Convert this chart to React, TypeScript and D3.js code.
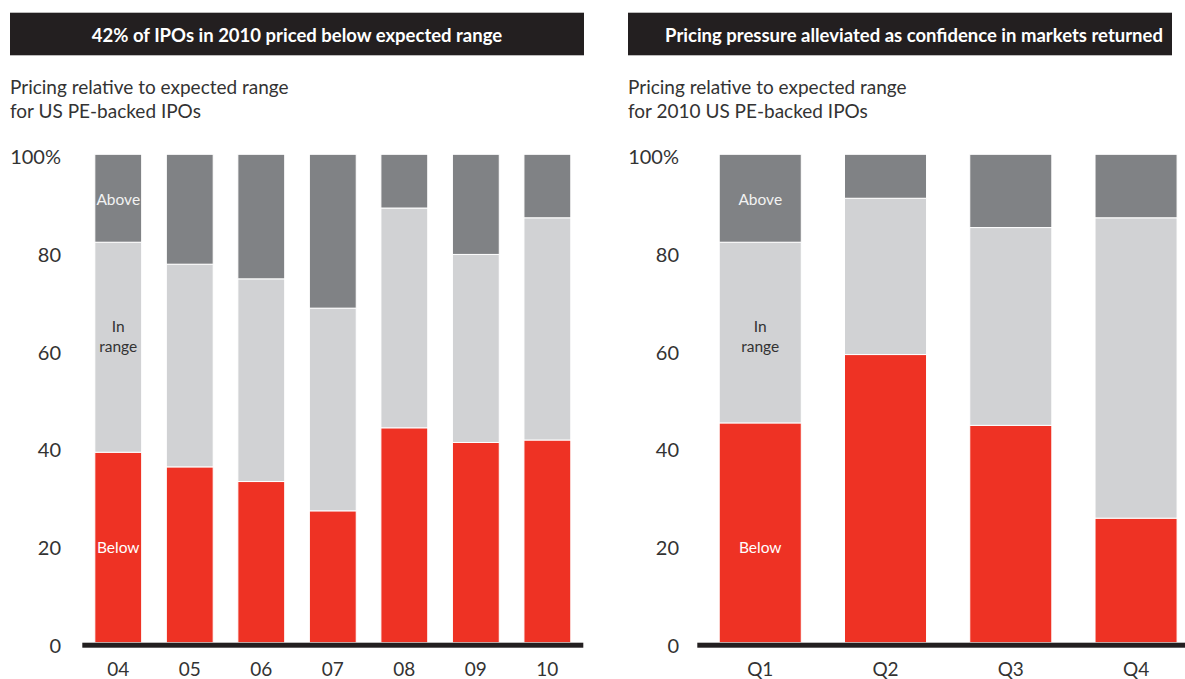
import React from 'react';
import * as d3 from 'd3';

// chart values
const yearCategories = ['04', '05', '06', '07', '08', '09', '10'];
const yearBelow = [39, 36, 33, 27, 44, 41, 41.5];
const yearInRange = [43, 41.5, 41.5, 41.5, 45, 38.5, 45.5];
const yearAbove = [18, 22.5, 25.5, 31.5, 11, 20.5, 13];

const quarterCategories = ['Q1', 'Q2', 'Q3', 'Q4'];
const quarterBelow = [45, 59, 44.5, 25.5];
const quarterInRange = [37, 32, 40.5, 61.5];
const quarterAbove = [18, 9, 15, 13];

const yTicks = [0, 20, 40, 60, 80, 100];
const segmentKeys = ['below', 'inRange', 'above'];

const RED = '#ee3224';
const LIGHT = '#d1d2d4';
const DARK = '#808285';
const INK = '#231f20';
const FONT = 'Lato, "Open Sans", sans-serif';

interface PanelProps {
  title: string;
  titleX: number;
  subtitle: string[];
  categories: string[];
  below: number[];
  inRange: number[];
  above: number[];
  barBox: [number, number];
  axisRange: [number, number];
  tickRight: number;
  labelled?: boolean;
}

const y = d3.scaleLinear().domain([0, 100]).range([642.7, 154.3]);

const Panel: React.FC<PanelProps> = ({
  title, titleX, subtitle, categories, below, inRange, above, barBox, axisRange, tickRight, labelled,
}) => {
  const x = d3.scaleBand<string>()
    .domain(categories)
    .range(axisRange)
    .paddingInner(0.345)
    .paddingOuter(0.175);

  const rows = categories.map((c, i) => ({ cat: c, below: below[i], inRange: inRange[i], above: above[i] }));
  const series = d3.stack<any>().keys(segmentKeys)(rows);
  const fills = [RED, LIGHT, DARK];

  const first = categories[0];
  const cx = x(first)! + x.bandwidth() / 2;

  return (
    <g>
      <rect x={barBox[0]} y={12.7} width={barBox[1] - barBox[0]} height={42.6} fill={INK} />
      <text
        x={titleX}
        y={41.5}
        textAnchor="middle"
        fill="#fff"
        fontFamily={FONT}
        fontWeight={700}
        fontSize={18.5}
      >
        {title}
      </text>
      {subtitle.map((s, i) => (
        <text key={i} x={barBox[0]} y={94.3 + i * 24} fill="#333" fontFamily={FONT} fontSize={19}>
          {s}
        </text>
      ))}

      {series.map((s, si) => (
        <g key={si} fill={fills[si]}>
          {s.map((d, i) => (
            <rect
              key={i}
              x={x(categories[i])}
              y={y(d[1])}
              width={x.bandwidth()}
              height={y(d[0]) - y(d[1])}
              stroke="#fff"
              strokeWidth={1}
            />
          ))}
        </g>
      ))}

      <rect x={axisRange[0]} y={642.7} width={axisRange[1] - axisRange[0]} height={5} fill={INK} />

      {yTicks.map(t => (
        <text
          key={t}
          x={tickRight}
          y={y(t) + 10}
          textAnchor="end"
          fill="#333"
          fontFamily={FONT}
          fontSize={20}
        >
          {t === 100 ? '100%' : t}
        </text>
      ))}

      {categories.map(c => (
        <text
          key={c}
          x={x(c)! + x.bandwidth() / 2}
          y={675.5}
          textAnchor="middle"
          fill="#333"
          fontFamily={FONT}
          fontSize={19}
        >
          {c}
        </text>
      ))}

      {labelled && (
        <g fontFamily={FONT} fontSize={15.5} textAnchor="middle">
          <text x={cx} y={y(90.6) + 5} fill="#f2f2f2">Above</text>
          <text x={cx} y={y(64.7) + 5} fill="#333">In</text>
          <text x={cx} y={y(60.5) + 5} fill="#333">range</text>
          <text x={cx} y={y(19.4) + 5} fill="#fff">Below</text>
        </g>
      )}
    </g>
  );
};

export default function App() {
  return (
    <svg width={1185} height={679} style={{ position: 'absolute', left: 0, top: 0, background: '#fff' }}>
      <Panel
        title="42% of IPOs in 2010 priced below expected range"
        titleX={297}
        subtitle={['Pricing relative to expected range', 'for US PE-backed IPOs']}
        categories={yearCategories}
        below={yearBelow}
        inRange={yearInRange}
        above={yearAbove}
        barBox={[10, 584]}
        axisRange={[82.3, 583.3]}
        tickRight={61}
        labelled
      />
      <Panel
        title="Pricing pressure alleviated as confidence in markets returned"
        titleX={914}
        subtitle={['Pricing relative to expected range', 'for 2010 US PE-backed IPOs']}
        categories={quarterCategories}
        below={quarterBelow}
        inRange={quarterInRange}
        above={quarterAbove}
        barBox={[628, 1172]}
        axisRange={[697.3, 1199]}
        tickRight={679}
        labelled
      />
    </svg>
  );
}
